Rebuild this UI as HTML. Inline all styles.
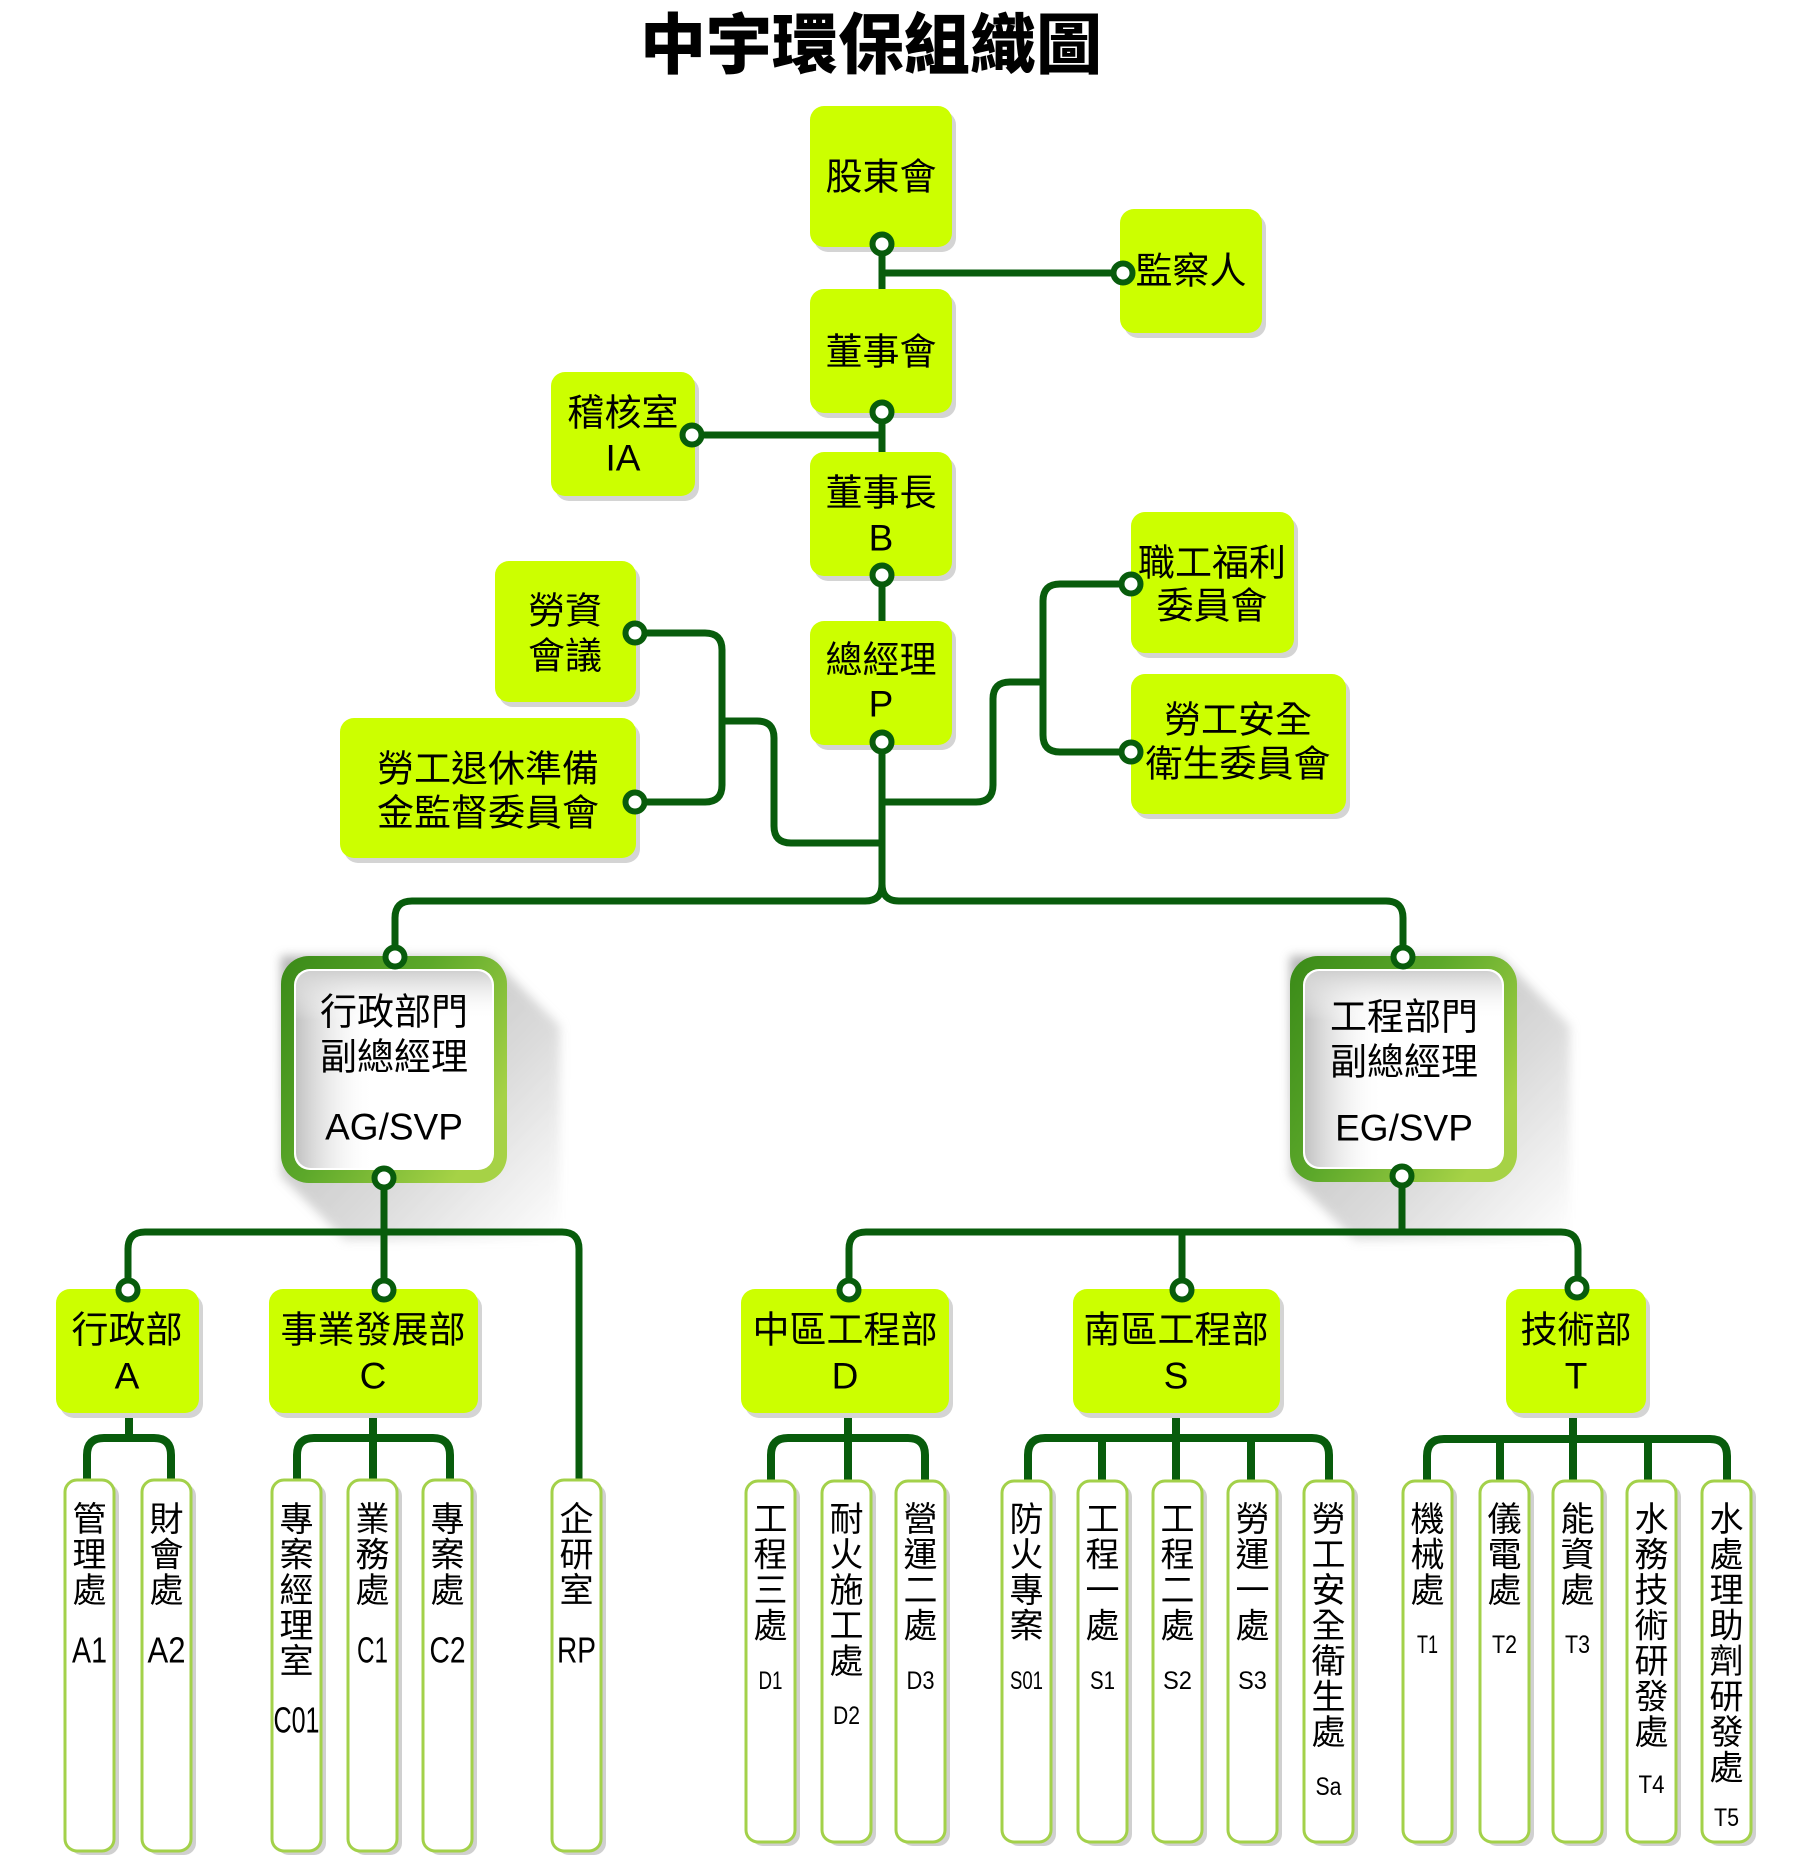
<!DOCTYPE html>
<html><head><meta charset="utf-8"><style>
html,body{margin:0;padding:0;background:#fff;}
svg{display:block;}
text{font-family:"Liberation Sans","Noto Sans CJK TC",sans-serif;fill:#000;dominant-baseline:central;text-anchor:middle;}
.t{font-size:37px;}
.lf{font-size:34px;}
.ca{font-size:36px;}
.cb{font-size:25px;}
.ln{fill:none;stroke:#085c0c;stroke-width:7;stroke-linejoin:round;}
.sb{fill:none;stroke:#085c0c;stroke-width:8;stroke-linejoin:round;}
.g{fill:#ccff00;}
.gs{fill:#d4d4d4;}
.leaf{fill:#fff;stroke:#a3d14a;stroke-width:3;}
.ls{fill:#d0d0d0;}
.c{fill:#fff;stroke:#085c0c;stroke-width:6;}
</style></head><body>
<svg width="1796" height="1872" viewBox="0 0 1796 1872" xmlns="http://www.w3.org/2000/svg">
<defs>
<linearGradient id="gb" x1="0" y1="0" x2="1" y2="0.6">
<stop offset="0" stop-color="#3a8a18"/><stop offset="0.5" stop-color="#5ca82a"/><stop offset="1" stop-color="#a6d246"/>
</linearGradient>
<linearGradient id="ih" x1="0" y1="0" x2="1" y2="0">
<stop offset="0" stop-color="#c2c2c2" stop-opacity="1"/><stop offset="0.4" stop-color="#ffffff" stop-opacity="0"/>
</linearGradient>
<linearGradient id="iv" x1="0" y1="0" x2="0" y2="1">
<stop offset="0" stop-color="#cfcfcf" stop-opacity="1"/><stop offset="0.25" stop-color="#ffffff" stop-opacity="0"/>
</linearGradient>
<linearGradient id="sh" x1="0" y1="0" x2="1" y2="1">
<stop offset="0" stop-color="#9a9a9a"/><stop offset="0.6" stop-color="#cfcfcf"/><stop offset="1" stop-color="#ffffff"/>
</linearGradient>
<filter id="bl" x="-20%" y="-20%" width="140%" height="140%"><feGaussianBlur stdDeviation="5"/></filter>
</defs>

<!-- Title -->
<text x="871" y="45" style="font-size:66px;font-weight:900;">中宇環保組織圖</text>

<!-- long shadows of AG / EG -->
<polygon points="490,956 560,1026 560,1240 345,1240 281,1176 281,956" fill="url(#sh)" opacity="0.75" filter="url(#bl)"/>
<polygon points="1500,956 1570,1026 1570,1240 1355,1240 1290,1176 1290,956" fill="url(#sh)" opacity="0.75" filter="url(#bl)"/>

<!-- connectors -->
<path class="ln" d="M882 244 V289"/>
<path class="ln" d="M882 273 H1123"/>
<path class="ln" d="M882 412 V452"/>
<path class="ln" d="M692 435 H882"/>
<path class="ln" d="M882 575 V621"/>
<path class="ln" d="M882 742 V884 Q882 901 865 901 H412 Q395 901 395 918 V957"/>
<path class="ln" d="M882 884 Q882 901 899 901 H1386 Q1403 901 1403 918 V957"/>
<path class="ln" d="M882 843 H791 Q774 843 774 826 V738 Q774 721 757 721 H722"/>
<path class="ln" d="M635 633 H705 Q722 633 722 650 V785 Q722 802 705 802 H635"/>
<path class="ln" d="M882 802 H976 Q993 802 993 785 V699 Q993 682 1010 682 H1043"/>
<path class="ln" d="M1131 584 H1060 Q1043 584 1043 601 V735 Q1043 752 1060 752 H1131"/>

<path class="ln" d="M384 1178 V1290"/>
<path class="ln" d="M128 1290 V1249 Q128 1232 145 1232 H562 Q579 1232 579 1249 V1480"/>
<path class="ln" d="M1402 1176 V1232"/>
<path class="ln" d="M849 1290 V1249 Q849 1232 866 1232 H1561 Q1578 1232 1578 1249 V1288"/>
<path class="ln" d="M1182 1232 V1290"/>

<path class="sb" d="M129 1413 V1438"/>
<path class="sb" d="M87 1480 V1455 Q87 1438 104 1438 H154 Q171 1438 171 1455 V1480"/>
<path class="sb" d="M373 1413 V1480"/>
<path class="sb" d="M297 1480 V1455 Q297 1438 314 1438 H433 Q450 1438 450 1455 V1480"/>
<path class="sb" d="M848 1413 V1481"/>
<path class="sb" d="M771 1481 V1455 Q771 1438 788 1438 H908 Q925 1438 925 1455 V1481"/>
<path class="sb" d="M1176 1413 V1481"/>
<path class="sb" d="M1028 1481 V1455 Q1028 1438 1045 1438 H1312 Q1329 1438 1329 1455 V1481"/>
<path class="sb" d="M1102 1438 V1481"/>
<path class="sb" d="M1251 1438 V1481"/>
<path class="sb" d="M1573 1413 V1482"/>
<path class="sb" d="M1427 1482 V1456 Q1427 1439 1444 1439 H1710 Q1727 1439 1727 1456 V1482"/>
<path class="sb" d="M1500 1439 V1482"/>
<path class="sb" d="M1648 1439 V1482"/>

<!-- green boxes: shadows -->
<g class="gs">
<rect x="814" y="111" width="142" height="141" rx="14"/>
<rect x="1124" y="214" width="142" height="124" rx="14"/>
<rect x="814" y="294" width="142" height="124" rx="14"/>
<rect x="555" y="377" width="144" height="124" rx="14"/>
<rect x="814" y="457" width="142" height="124" rx="14"/>
<rect x="814" y="626" width="142" height="124" rx="14"/>
<rect x="499" y="566" width="141" height="141" rx="14"/>
<rect x="344" y="723" width="296" height="140" rx="14"/>
<rect x="1135" y="517" width="163" height="141" rx="14"/>
<rect x="1135" y="679" width="215" height="140" rx="14"/>
<rect x="60" y="1294" width="143" height="124" rx="14"/>
<rect x="273" y="1294" width="209" height="124" rx="14"/>
<rect x="745" y="1294" width="208" height="124" rx="14"/>
<rect x="1077" y="1294" width="207" height="124" rx="14"/>
<rect x="1510" y="1294" width="140" height="124" rx="14"/>
</g>
<g class="g">
<rect x="810" y="106" width="142" height="141" rx="14"/>
<rect x="1120" y="209" width="142" height="124" rx="14"/>
<rect x="810" y="289" width="142" height="124" rx="14"/>
<rect x="551" y="372" width="144" height="124" rx="14"/>
<rect x="810" y="452" width="142" height="124" rx="14"/>
<rect x="810" y="621" width="142" height="124" rx="14"/>
<rect x="495" y="561" width="141" height="141" rx="14"/>
<rect x="340" y="718" width="296" height="140" rx="14"/>
<rect x="1131" y="512" width="163" height="141" rx="14"/>
<rect x="1131" y="674" width="215" height="140" rx="14"/>
<rect x="56" y="1289" width="143" height="124" rx="14"/>
<rect x="269" y="1289" width="209" height="124" rx="14"/>
<rect x="741" y="1289" width="208" height="124" rx="14"/>
<rect x="1073" y="1289" width="207" height="124" rx="14"/>
<rect x="1506" y="1289" width="140" height="124" rx="14"/>
</g>

<!-- AG / EG boxes -->
<rect x="281" y="956" width="226" height="227" rx="28" fill="url(#gb)"/>
<rect x="294" y="969" width="200" height="201" rx="16" fill="#fff"/>
<rect x="296" y="971" width="196" height="197" rx="15" fill="url(#ih)"/>
<rect x="296" y="971" width="196" height="197" rx="15" fill="url(#iv)"/>
<rect x="1290" y="956" width="227" height="226" rx="28" fill="url(#gb)"/>
<rect x="1303" y="969" width="201" height="200" rx="16" fill="#fff"/>
<rect x="1305" y="971" width="197" height="196" rx="15" fill="url(#ih)"/>
<rect x="1305" y="971" width="197" height="196" rx="15" fill="url(#iv)"/>

<!-- leaves shadows -->
<g class="ls">
<rect x="70" y="1484" width="49" height="371" rx="12"/>
<rect x="147" y="1484" width="49" height="371" rx="12"/>
<rect x="277" y="1484" width="49" height="371" rx="12"/>
<rect x="353" y="1484" width="49" height="371" rx="12"/>
<rect x="428" y="1484" width="49" height="371" rx="12"/>
<rect x="557" y="1484" width="49" height="371" rx="12"/>
<rect x="751" y="1485" width="49" height="361" rx="12"/>
<rect x="827" y="1485" width="49" height="361" rx="12"/>
<rect x="901" y="1485" width="49" height="361" rx="12"/>
<rect x="1007" y="1485" width="49" height="361" rx="12"/>
<rect x="1083" y="1485" width="49" height="361" rx="12"/>
<rect x="1158" y="1485" width="49" height="361" rx="12"/>
<rect x="1233" y="1485" width="49" height="361" rx="12"/>
<rect x="1309" y="1485" width="49" height="361" rx="12"/>
<rect x="1408" y="1485" width="49" height="361" rx="12"/>
<rect x="1485" y="1485" width="49" height="361" rx="12"/>
<rect x="1558" y="1485" width="49" height="361" rx="12"/>
<rect x="1632" y="1485" width="49" height="361" rx="12"/>
<rect x="1707" y="1485" width="49" height="361" rx="12"/>
</g>
<g class="leaf">
<rect x="65" y="1480" width="49" height="371" rx="12"/>
<rect x="142" y="1480" width="49" height="371" rx="12"/>
<rect x="272" y="1480" width="49" height="371" rx="12"/>
<rect x="348" y="1480" width="49" height="371" rx="12"/>
<rect x="423" y="1480" width="49" height="371" rx="12"/>
<rect x="552" y="1480" width="49" height="371" rx="12"/>
<rect x="746" y="1481" width="49" height="361" rx="12"/>
<rect x="822" y="1481" width="49" height="361" rx="12"/>
<rect x="896" y="1481" width="49" height="361" rx="12"/>
<rect x="1002" y="1481" width="49" height="361" rx="12"/>
<rect x="1078" y="1481" width="49" height="361" rx="12"/>
<rect x="1153" y="1481" width="49" height="361" rx="12"/>
<rect x="1228" y="1481" width="49" height="361" rx="12"/>
<rect x="1304" y="1481" width="49" height="361" rx="12"/>
<rect x="1403" y="1481" width="49" height="361" rx="12"/>
<rect x="1480" y="1481" width="49" height="361" rx="12"/>
<rect x="1553" y="1481" width="49" height="361" rx="12"/>
<rect x="1627" y="1481" width="49" height="361" rx="12"/>
<rect x="1702" y="1481" width="49" height="361" rx="12"/>
</g>

<!-- circles -->
<g class="c">
<circle cx="882" cy="244" r="9.5"/>
<circle cx="1123" cy="273" r="9.5"/>
<circle cx="882" cy="412" r="9.5"/>
<circle cx="692" cy="435" r="9.5"/>
<circle cx="882" cy="575" r="9.5"/>
<circle cx="882" cy="742" r="9.5"/>
<circle cx="635" cy="633" r="9.5"/>
<circle cx="635" cy="802" r="9.5"/>
<circle cx="1131" cy="584" r="9.5"/>
<circle cx="1131" cy="752" r="9.5"/>
<circle cx="395" cy="957" r="9.5"/>
<circle cx="1403" cy="957" r="9.5"/>
<circle cx="384" cy="1178" r="9.5"/>
<circle cx="1402" cy="1176" r="9.5"/>
<circle cx="128" cy="1290" r="9.5"/>
<circle cx="384" cy="1290" r="9.5"/>
<circle cx="849" cy="1290" r="9.5"/>
<circle cx="1182" cy="1290" r="9.5"/>
<circle cx="1577" cy="1288" r="9.5"/>
</g>

<!-- box labels -->
<g class="t">
<text x="881" y="177">股東會</text>
<text x="1191" y="271">監察人</text>
<text x="881" y="352">董事會</text>
<text x="623" y="413">稽核室</text>
<text x="623" y="458">IA</text>
<text x="881" y="493">董事長</text>
<text x="881" y="538">B</text>
<text x="881" y="660">總經理</text>
<text x="881" y="704">P</text>
<text x="565" y="611">勞資</text>
<text x="565" y="656">會議</text>
<text x="488" y="769">勞工退休準備</text>
<text x="488" y="813">金監督委員會</text>
<text x="1212" y="563">職工福利</text>
<text x="1212" y="606">委員會</text>
<text x="1238" y="720">勞工安全</text>
<text x="1238" y="764">衛生委員會</text>
<text x="394" y="1012">行政部門</text>
<text x="394" y="1057">副總經理</text>
<text x="394" y="1127">AG/SVP</text>
<text x="1404" y="1017">工程部門</text>
<text x="1404" y="1062">副總經理</text>
<text x="1404" y="1128">EG/SVP</text>
<text x="127" y="1330">行政部</text>
<text x="127" y="1376">A</text>
<text x="373" y="1330">事業發展部</text>
<text x="373" y="1376">C</text>
<text x="845" y="1330">中區工程部</text>
<text x="845" y="1376">D</text>
<text x="1176" y="1330">南區工程部</text>
<text x="1176" y="1376">S</text>
<text x="1576" y="1330">技術部</text>
<text x="1576" y="1376">T</text>
</g>

<!-- leaf labels -->
<g class="lf">
<text><tspan x="89.5" y="1520">管</tspan><tspan x="89.5" y="1555.5">理</tspan><tspan x="89.5" y="1591">處</tspan></text>
<text><tspan x="166.5" y="1520">財</tspan><tspan x="166.5" y="1555.5">會</tspan><tspan x="166.5" y="1591">處</tspan></text>
<text><tspan x="296.5" y="1520">專</tspan><tspan x="296.5" y="1555.5">案</tspan><tspan x="296.5" y="1591">經</tspan><tspan x="296.5" y="1626.5">理</tspan><tspan x="296.5" y="1662">室</tspan></text>
<text><tspan x="372.5" y="1520">業</tspan><tspan x="372.5" y="1555.5">務</tspan><tspan x="372.5" y="1591">處</tspan></text>
<text><tspan x="447.5" y="1520">專</tspan><tspan x="447.5" y="1555.5">案</tspan><tspan x="447.5" y="1591">處</tspan></text>
<text><tspan x="576.5" y="1520">企</tspan><tspan x="576.5" y="1555.5">研</tspan><tspan x="576.5" y="1591">室</tspan></text>
<text><tspan x="770.5" y="1520">工</tspan><tspan x="770.5" y="1555.5">程</tspan><tspan x="770.5" y="1591">三</tspan><tspan x="770.5" y="1626.5">處</tspan></text>
<text><tspan x="846.5" y="1520">耐</tspan><tspan x="846.5" y="1555.5">火</tspan><tspan x="846.5" y="1591">施</tspan><tspan x="846.5" y="1626.5">工</tspan><tspan x="846.5" y="1662">處</tspan></text>
<text><tspan x="920.5" y="1520">營</tspan><tspan x="920.5" y="1555.5">運</tspan><tspan x="920.5" y="1591">二</tspan><tspan x="920.5" y="1626.5">處</tspan></text>
<text><tspan x="1026.5" y="1520">防</tspan><tspan x="1026.5" y="1555.5">火</tspan><tspan x="1026.5" y="1591">專</tspan><tspan x="1026.5" y="1626.5">案</tspan></text>
<text><tspan x="1102.5" y="1520">工</tspan><tspan x="1102.5" y="1555.5">程</tspan><tspan x="1102.5" y="1591">一</tspan><tspan x="1102.5" y="1626.5">處</tspan></text>
<text><tspan x="1177.5" y="1520">工</tspan><tspan x="1177.5" y="1555.5">程</tspan><tspan x="1177.5" y="1591">二</tspan><tspan x="1177.5" y="1626.5">處</tspan></text>
<text><tspan x="1252.5" y="1520">勞</tspan><tspan x="1252.5" y="1555.5">運</tspan><tspan x="1252.5" y="1591">一</tspan><tspan x="1252.5" y="1626.5">處</tspan></text>
<text><tspan x="1328.5" y="1520">勞</tspan><tspan x="1328.5" y="1555.5">工</tspan><tspan x="1328.5" y="1591">安</tspan><tspan x="1328.5" y="1626.5">全</tspan><tspan x="1328.5" y="1662">衛</tspan><tspan x="1328.5" y="1697.5">生</tspan><tspan x="1328.5" y="1733">處</tspan></text>
<text><tspan x="1427.5" y="1520">機</tspan><tspan x="1427.5" y="1555.5">械</tspan><tspan x="1427.5" y="1591">處</tspan></text>
<text><tspan x="1504.5" y="1520">儀</tspan><tspan x="1504.5" y="1555.5">電</tspan><tspan x="1504.5" y="1591">處</tspan></text>
<text><tspan x="1577.5" y="1520">能</tspan><tspan x="1577.5" y="1555.5">資</tspan><tspan x="1577.5" y="1591">處</tspan></text>
<text><tspan x="1651.5" y="1520">水</tspan><tspan x="1651.5" y="1555.5">務</tspan><tspan x="1651.5" y="1591">技</tspan><tspan x="1651.5" y="1626.5">術</tspan><tspan x="1651.5" y="1662">研</tspan><tspan x="1651.5" y="1697.5">發</tspan><tspan x="1651.5" y="1733">處</tspan></text>
<text><tspan x="1726.5" y="1520">水</tspan><tspan x="1726.5" y="1555.5">處</tspan><tspan x="1726.5" y="1591">理</tspan><tspan x="1726.5" y="1626.5">助</tspan><tspan x="1726.5" y="1662">劑</tspan><tspan x="1726.5" y="1697.5">研</tspan><tspan x="1726.5" y="1733">發</tspan><tspan x="1726.5" y="1768.5">處</tspan></text>
</g>

<!-- leaf codes -->
<g class="ca">
<text x="89.5" y="1650" textLength="35" lengthAdjust="spacingAndGlyphs">A1</text>
<text x="166.5" y="1650" textLength="38" lengthAdjust="spacingAndGlyphs">A2</text>
<text x="296.5" y="1720" textLength="46" lengthAdjust="spacingAndGlyphs">C01</text>
<text x="372.5" y="1650" textLength="31" lengthAdjust="spacingAndGlyphs">C1</text>
<text x="447.5" y="1650" textLength="36" lengthAdjust="spacingAndGlyphs">C2</text>
<text x="576.5" y="1650" textLength="39" lengthAdjust="spacingAndGlyphs">RP</text>
</g>
<g class="cb">
<text x="770.5" y="1681" textLength="24" lengthAdjust="spacingAndGlyphs">D1</text>
<text x="846.5" y="1716" textLength="27" lengthAdjust="spacingAndGlyphs">D2</text>
<text x="920.5" y="1681" textLength="28" lengthAdjust="spacingAndGlyphs">D3</text>
<text x="1026.5" y="1681" textLength="33" lengthAdjust="spacingAndGlyphs">S01</text>
<text x="1102.5" y="1681" textLength="25" lengthAdjust="spacingAndGlyphs">S1</text>
<text x="1177.5" y="1681" textLength="29" lengthAdjust="spacingAndGlyphs">S2</text>
<text x="1252.5" y="1681" textLength="29" lengthAdjust="spacingAndGlyphs">S3</text>
<text x="1328.5" y="1787" textLength="26" lengthAdjust="spacingAndGlyphs">Sa</text>
<text x="1427.5" y="1645" textLength="21" lengthAdjust="spacingAndGlyphs">T1</text>
<text x="1504.5" y="1645" textLength="25" lengthAdjust="spacingAndGlyphs">T2</text>
<text x="1577.5" y="1645" textLength="25" lengthAdjust="spacingAndGlyphs">T3</text>
<text x="1651.5" y="1785" textLength="26" lengthAdjust="spacingAndGlyphs">T4</text>
<text x="1726.5" y="1818" textLength="25" lengthAdjust="spacingAndGlyphs">T5</text>
</g>
</svg>
</body></html>
